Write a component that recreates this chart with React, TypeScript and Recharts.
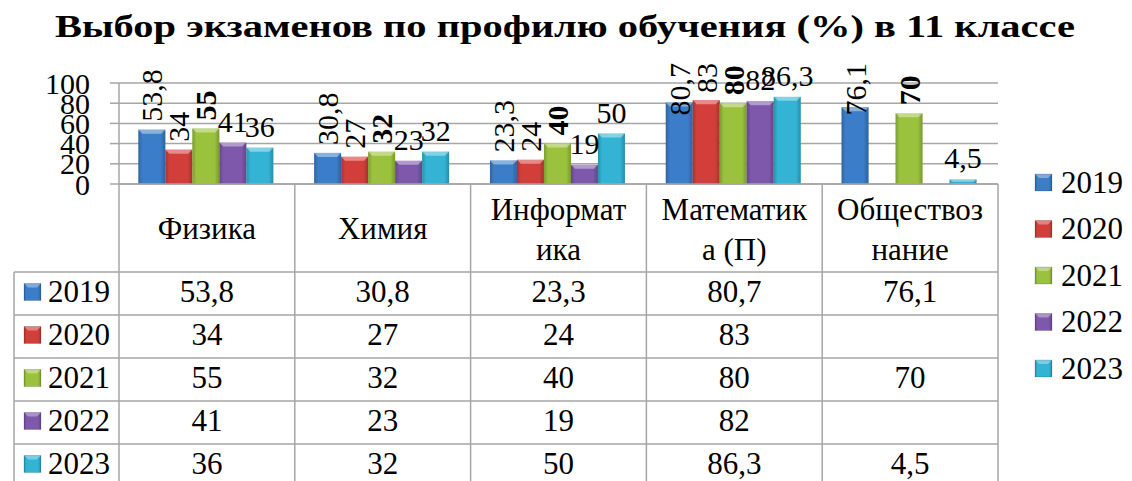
import React from 'react'
import { BarChart, Bar, XAxis, YAxis, CartesianGrid } from 'recharts'

// categories / table header
const categories = ['Физика', 'Химия', 'Информатика', 'Математика (П)', 'Обществознание']
const headerLines = [['Физика'], ['Химия'], ['Информат', 'ика'], ['Математик', 'а (П)'], ['Обществоз', 'нание']]

// series
const years = ['2019', '2020', '2021', '2022', '2023']
const values2019 = [53.8, 30.8, 23.3, 80.7, 76.1]
const values2020 = [34, 27, 24, 83, null]
const values2021 = [55, 32, 40, 80, 70]
const values2022 = [41, 23, 19, 82, null]
const values2023 = [36, 32, 50, 86.3, 4.5]
const seriesValues = [values2019, values2020, values2021, values2022, values2023]

const yTicks = [0, 20, 40, 60, 80, 100]

const colors = ['#3b7dc8', '#d23f3b', '#9bc23d', '#7d58ab', '#33b4d4']
const labelModes = ['rot', 'rot', 'rotBold', 'flat', 'flat']

const W = 1132
const H = 481
const TOP = 83
const PLOT_LEFT = 119
const PLOT_RIGHT = 998
const PLOT_BOTTOM = 184
const BAND = (PLOT_RIGHT - PLOT_LEFT) / categories.length
const HEADER_BOTTOM = 272
const ROW_H = 43
const TABLE_LEFT = 14
const SERIF = "'Liberation Serif', 'Times New Roman', serif"
const GRID = '#a6a6a6'
const LABEL_FS = 30
const TABLE_FS = 31

const fontCss = `#chart-root, #chart-root text, #chart-root tspan, #chart-root div { font-family: 'Liberation Serif', 'Times New Roman', serif !important; }`

const data = categories.map((cat, i) => {
  const row: Record<string, any> = { cat }
  years.forEach((y, s) => {
    row[y] = seriesValues[s][i]
  })
  return row
})

const fmt = (v: number) => String(v).replace('.', ',')
const textLen = (s: string, fs: number) =>
  s.split('').reduce((acc, ch) => acc + (ch === ',' ? 0.25 : 0.5), 0) * fs

const makeLabel = (mode: string) => (props: any) => {
  const { x, y, width, value } = props
  if (value === null || value === undefined) return null
  const s = fmt(value)
  const cx = x + width / 2
  if (mode === 'flat') {
    return (
      <text x={cx} y={y - 11} textAnchor="middle" fontFamily={SERIF} fontSize={LABEL_FS} fill="#000">
        {s}
      </text>
    )
  }
  const len = textLen(s, LABEL_FS)
  let bottom = y - 8
  if (bottom - len < 63) bottom = 63 + len
  return (
    <text
      x={cx}
      y={bottom}
      dy="0.35em"
      transform={`rotate(-90 ${cx} ${bottom})`}
      fontFamily={SERIF}
      fontSize={LABEL_FS}
      fontWeight={mode === 'rotBold' ? 'bold' : 'normal'}
      fill="#000"
    >
      {s}
    </text>
  )
}

const BevelBar = (props: any) => {
  const { x, y, width, height, fill } = props
  if (!height || height <= 0) return null
  const b = Math.min(4, height / 2)
  return (
    <g>
      <rect x={x} y={y} width={width} height={height} fill={fill} />
      <rect x={x} y={y} width={width} height={height} fill="url(#shade)" />
      <polygon
        points={`${x},${y} ${x + width},${y} ${x + width - b},${y + b} ${x + b},${y + b}`}
        fill="#fff"
        fillOpacity={0.4}
      />
    </g>
  )
}

const LegendSquare = ({ x, y, s, shade }: { x: number; y: number; s: number; shade: string }) => (
  <g>
    <rect x={x} y={y} width={17} height={17} fill={colors[s]} />
    <rect x={x} y={y} width={17} height={17} fill={`url(#${shade})`} />
    <polygon points={`${x},${y} ${x + 17},${y} ${x + 13},${y + 4} ${x + 4},${y + 4}`} fill="#fff" fillOpacity={0.35} />
    <rect x={x} y={y} width={17} height={17} fill="none" stroke="#000" strokeOpacity={0.15} />
  </g>
)

const ShadeDefs = ({ id }: { id: string }) => (
  <defs>
    <linearGradient id={id} x1="0" y1="0" x2="1" y2="0">
      <stop offset="0%" stopColor="#000" stopOpacity={0.2} />
      <stop offset="15%" stopColor="#000" stopOpacity={0} />
      <stop offset="82%" stopColor="#000" stopOpacity={0} />
      <stop offset="100%" stopColor="#000" stopOpacity={0.22} />
    </linearGradient>
  </defs>
)

const TableColumn = (props: any) => {
  const { x, payload } = props
  const idx = categories.indexOf(payload.value)
  const left = x - BAND / 2
  const right = x + BAND / 2
  const lines = headerLines[idx]
  return (
    <g>
      {idx === 0 && (
        <g>
          <line x1={left} y1={PLOT_BOTTOM} x2={left} y2={H} stroke={GRID} strokeWidth={1.5} />
          <line x1={TABLE_LEFT} y1={HEADER_BOTTOM} x2={TABLE_LEFT} y2={H} stroke={GRID} strokeWidth={1.5} />
          {years.map((yr, s) => (
            <line
              key={`h${s}`}
              x1={TABLE_LEFT}
              y1={HEADER_BOTTOM + s * ROW_H}
              x2={PLOT_RIGHT}
              y2={HEADER_BOTTOM + s * ROW_H}
              stroke={GRID}
              strokeWidth={1.5}
            />
          ))}
          {years.map((yr, s) => {
            const cy = HEADER_BOTTOM + s * ROW_H + ROW_H / 2 - 2
            return (
              <g key={`l${s}`}>
                <LegendSquare x={24} y={cy - 8} s={s} shade="shade" />
                <text x={48} y={cy} dy="0.35em" fontFamily={SERIF} fontSize={TABLE_FS} fill="#000">
                  {yr}
                </text>
              </g>
            )
          })}
        </g>
      )}
      <line x1={right} y1={PLOT_BOTTOM} x2={right} y2={H} stroke={GRID} strokeWidth={1.5} />
      {lines.length === 1 ? (
        <text x={x} y={228} dy="0.35em" textAnchor="middle" fontFamily={SERIF} fontSize={TABLE_FS} fill="#000">
          {lines[0]}
        </text>
      ) : (
        lines.map((t, k) => (
          <text key={k} x={x} y={209 + k * 40} dy="0.35em" textAnchor="middle" fontFamily={SERIF} fontSize={TABLE_FS} fill="#000">
            {t}
          </text>
        ))
      )}
      {seriesValues.map((vals, s) => {
        const v = vals[idx]
        if (v === null || v === undefined) return null
        return (
          <text
            key={`v${s}`}
            x={x}
            y={HEADER_BOTTOM + s * ROW_H + ROW_H / 2 - 2}
            dy="0.35em"
            textAnchor="middle"
            fontFamily={SERIF}
            fontSize={TABLE_FS}
            fill="#000"
          >
            {fmt(v)}
          </text>
        )
      })}
    </g>
  )
}

export default function App() {
  return (
    <div
      id="chart-root"
      style={{ position: 'absolute', left: 0, top: 0, width: W, height: H, background: '#fff', fontFamily: SERIF }}
    >
      <style>{fontCss}</style>
      <BarChart
        width={W}
        height={H}
        data={data}
        margin={{ top: TOP, right: W - PLOT_RIGHT, left: 0, bottom: 0 }}
        barCategoryGap="11%"
        barGap={0}
      >
        <ShadeDefs id="shade" />
        <CartesianGrid vertical={false} stroke={GRID} strokeWidth={1.5} />
        <XAxis
          dataKey="cat"
          height={H - PLOT_BOTTOM}
          interval={0}
          tickLine={false}
          tickSize={0}
          tickMargin={0}
          axisLine={{ stroke: GRID, strokeWidth: 1.5 }}
          tick={<TableColumn />}
        />
        <YAxis
          width={PLOT_LEFT}
          domain={[0, 100]}
          ticks={yTicks}
          interval={0}
          tickSize={9}
          tickMargin={20}
          axisLine={{ stroke: GRID, strokeWidth: 1.5 }}
          tickLine={{ stroke: GRID, strokeWidth: 1.5 }}
          tick={{ fontSize: LABEL_FS, fill: '#000', fontFamily: SERIF }}
        />
        {years.map((yr, s) => (
          <Bar
            key={yr}
            dataKey={yr}
            fill={colors[s]}
            shape={<BevelBar />}
            isAnimationActive={false}
            label={makeLabel(labelModes[s])}
          />
        ))}
      </BarChart>
      <svg width={W} height={H} style={{ position: 'absolute', left: 0, top: 0, pointerEvents: 'none' }}>
        <ShadeDefs id="shade2" />
        <text
          x={55}
          y={37}
          textLength={1020}
          lengthAdjust="spacingAndGlyphs"
          fontFamily={SERIF}
          fontWeight="bold"
          fontSize={31}
          fill="#000"
        >
          Выбор экзаменов по профилю обучения (%) в 11 классе
        </text>
        {years.map((yr, s) => {
          const cy = 182 + s * 46.5
          return (
            <g key={yr}>
              <LegendSquare x={1035} y={cy - 8} s={s} shade="shade2" />
              <text x={1061} y={cy} dy="0.35em" fontFamily={SERIF} fontSize={TABLE_FS} fill="#000">
                {yr}
              </text>
            </g>
          )
        })}
      </svg>
    </div>
  )
}
